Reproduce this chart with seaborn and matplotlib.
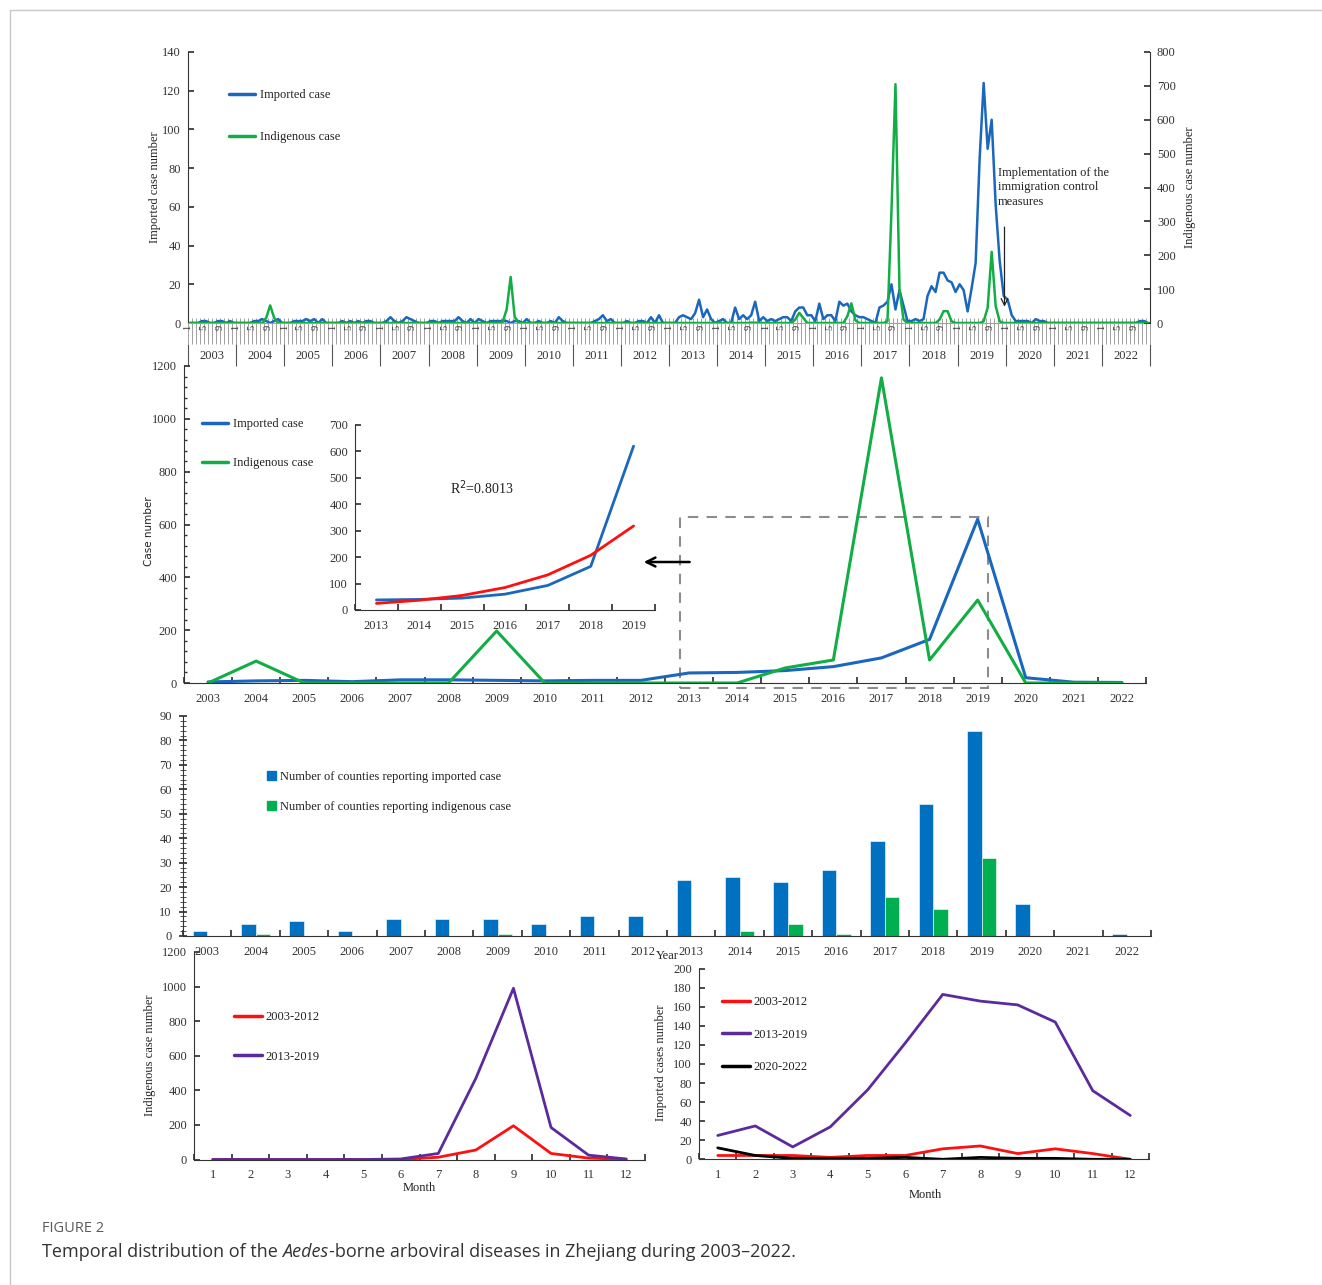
import numpy as np
import pandas as pd
import matplotlib
matplotlib.use("Agg")
import matplotlib.pyplot as plt
import seaborn as sns
from matplotlib.ticker import FixedLocator, MultipleLocator
from matplotlib.patches import Rectangle, Patch
from matplotlib.lines import Line2D

# ---------------- data ----------------
years = [str(y) for y in range(2003, 2023)]
month_tick_labels = {0: "1", 4: "5", 8: "9"}

# monthly imported cases (left axis), one row per year 2003..2022
imported_monthly = [
    0, 0, 0, 1, 1, 0, 0, 1, 1, 0, 1, 0,        # 2003
    0, 0, 0, 0, 1, 1, 2, 1, 0, 1, 2, 0,        # 2004
    0, 0, 1, 1, 1, 2, 1, 2, 0, 2, 0, 0,        # 2005
    0, 0, 1, 0, 1, 0, 1, 0, 1, 1, 0, 0,        # 2006
    0, 1, 3, 1, 0, 1, 3, 2, 1, 0, 0, 0,        # 2007
    1, 1, 0, 1, 1, 1, 1, 3, 1, 0, 2, 0,        # 2008
    2, 1, 0, 1, 1, 1, 1, 1, 0, 1, 1, 0,        # 2009
    2, 0, 0, 1, 0, 0, 1, 0, 3, 1, 0, 0,        # 2010
    0, 0, 0, 0, 0, 1, 2, 4, 1, 2, 0, 0,        # 2011
    0, 1, 0, 0, 1, 1, 0, 3, 0, 4, 0, 0,        # 2012
    0, 0, 3, 4, 3, 2, 5, 12, 3, 7, 2, 0,       # 2013
    1, 2, 0, 0, 8, 2, 4, 2, 4, 11, 1, 3,       # 2014
    1, 2, 1, 2, 3, 3, 1, 6, 8, 8, 4, 4,        # 2015
    1, 10, 2, 4, 4, 1, 11, 9, 10, 6, 4, 3,     # 2016
    3, 2, 1, 0, 8, 9, 11, 20, 7, 17, 9, 1,     # 2017
    1, 2, 1, 2, 14, 19, 16, 26, 26, 22, 21, 16,  # 2018
    20, 17, 6, 18, 31, 85, 124, 90, 105, 61, 32, 14,  # 2019
    12, 4, 1, 1, 1, 1, 0, 2, 1, 1, 0, 0,       # 2020
    0, 0, 0, 0, 0, 0, 0, 0, 0, 0, 0, 0,        # 2021
    0, 0, 0, 0, 0, 0, 0, 0, 0, 1, 1, 0,        # 2022
]
# monthly indigenous cases (right axis)
indigenous_monthly = [
    0, 0, 0, 0, 0, 0, 0, 0, 0, 0, 0, 0,        # 2003
    0, 0, 0, 0, 0, 0, 0, 15, 52, 15, 0, 0,     # 2004
    0, 0, 0, 0, 0, 0, 0, 0, 0, 0, 0, 0,        # 2005
    0, 0, 0, 0, 0, 0, 0, 0, 0, 0, 0, 0,        # 2006
    0, 0, 0, 0, 0, 0, 0, 0, 0, 0, 0, 0,        # 2007
    0, 0, 0, 0, 0, 0, 0, 0, 0, 0, 0, 0,        # 2008
    0, 0, 0, 0, 0, 0, 3, 40, 136, 18, 0, 0,    # 2009
    0, 0, 0, 0, 0, 0, 0, 0, 0, 0, 0, 0,        # 2010
    0, 0, 0, 0, 0, 0, 0, 0, 0, 0, 0, 0,        # 2011
    0, 0, 0, 0, 0, 0, 0, 0, 0, 0, 0, 0,        # 2012
    0, 0, 0, 0, 0, 0, 0, 0, 0, 0, 0, 0,        # 2013
    0, 0, 0, 0, 0, 0, 0, 0, 1, 1, 0, 0,        # 2014
    0, 0, 0, 0, 0, 0, 0, 10, 30, 15, 0, 0,     # 2015
    0, 0, 0, 0, 0, 0, 0, 0, 20, 58, 8, 0,      # 2016
    0, 0, 0, 0, 0, 0, 5, 330, 705, 100, 10, 0,  # 2017
    0, 0, 0, 0, 0, 0, 0, 10, 35, 35, 5, 0,     # 2018
    0, 0, 0, 0, 0, 0, 5, 45, 210, 50, 5, 0,    # 2019
    0, 0, 0, 0, 0, 0, 0, 0, 0, 0, 0, 0,        # 2020
    0, 0, 0, 0, 0, 0, 0, 0, 0, 0, 0, 0,        # 2021
    0, 0, 0, 0, 0, 0, 0, 0, 0, 0, 0, 0,        # 2022
]

imported_annual = [4, 8, 10, 5, 12, 12, 10, 8, 10, 10, 38, 40, 47, 62, 95, 165, 620, 20, 3, 2]
indigenous_annual = [0, 83, 0, 0, 0, 0, 197, 0, 0, 0, 0, 0, 57, 87, 1155, 87, 314, 0, 0, 0]

inset_years = ["2013", "2014", "2015", "2016", "2017", "2018", "2019"]
inset_imported = [38, 40, 45, 60, 93, 165, 620]
inset_trend = [25, 37, 55, 85, 133, 207, 318]

counties_imported = [2, 5, 6, 2, 7, 7, 7, 5, 8, 8, 23, 24, 22, 27, 39, 54, 84, 13, 0, 1]
counties_indigenous = [0, 1, 0, 0, 0, 0, 1, 0, 0, 0, 0, 2, 5, 1, 16, 11, 32, 0, 0, 0]

months = list(range(1, 13))
indig_2003_2012 = [0, 0, 0, 0, 0, 0, 13, 55, 195, 35, 8, 1]
indig_2013_2019 = [0, 0, 0, 0, 0, 3, 35, 470, 990, 185, 25, 3]
imp_2003_2012 = [4, 4, 4, 2, 4, 4, 11, 14, 6, 11, 6, 0]
imp_2013_2019 = [25, 35, 13, 34, 73, 122, 173, 166, 162, 144, 72, 46]
imp_2020_2022 = [12, 4, 1, 1, 1, 2, 0, 2, 1, 1, 0, 0]

# ---------------- style ----------------
sns.set_theme(style="ticks")
plt.rcParams['font.family'] = ['Liberation Serif', 'DejaVu Serif']
plt.rcParams['axes.edgecolor'] = '#333333'
plt.rcParams['axes.linewidth'] = 0.8
plt.rcParams['xtick.color'] = '#333333'
plt.rcParams['ytick.color'] = '#333333'
plt.rcParams['text.color'] = '#222222'

BLUE = '#1b67bd'
BLUE_BAR = '#0070c0'
GREEN = '#13ad45'
GREEN_BAR = '#00b050'
RED = '#ff1010'
PURPLE = '#5c2a9d'
FS = 9

W, H = 1322, 1285
fig = plt.figure(figsize=(W / 100, H / 100), dpi=100)


def rect(left, top, right, bottom):
    return [left / W, 1 - bottom / H, (right - left) / W, (bottom - top) / H]


def ftext(px, py, s, **kw):
    kw.setdefault('ha', 'center')
    kw.setdefault('va', 'center')
    return fig.text(px / W, 1 - py / H, s, **kw)


def new_axes(r):
    a = fig.add_axes(r)
    a.patch.set_alpha(0)
    return a


# ---------------- panel 1: monthly ----------------
ax1 = new_axes(rect(188, 52, 1150, 323))
df1 = pd.DataFrame({"m": np.arange(len(imported_monthly)) + 0.5,
                    "imp": imported_monthly, "ind": indigenous_monthly})
sns.lineplot(data=df1, x="m", y="imp", ax=ax1, color=BLUE, lw=1.8)
ax1r = ax1.twinx()
sns.lineplot(data=df1, x="m", y="ind", ax=ax1r, color=GREEN, lw=1.8)
nm = len(imported_monthly)
ax1.set_xlim(0, nm)
ax1.set_ylim(0, 140)
ax1r.set_ylim(0, 800)
for a in (ax1, ax1r):
    a.set_xlabel("")
    a.set_ylabel("")
    a.spines['top'].set_visible(False)
ax1.spines['right'].set_visible(False)
ax1r.spines['left'].set_visible(False)
ax1r.spines['bottom'].set_visible(False)
ax1.set_yticks(range(0, 141, 20))
ax1r.set_yticks(range(0, 801, 100))
ax1.tick_params(axis='y', direction='in', length=4, labelsize=FS, pad=5)
ax1r.tick_params(axis='y', direction='in', length=4, labelsize=FS, pad=5)

mpos = np.arange(0, nm + 1)
ax1.xaxis.remove_overlapping_locs = False
ax1.set_xticks(mpos)
ax1.set_xticklabels([month_tick_labels.get(i % 12, "") if i < nm else "" for i in mpos])
ax1.xaxis.set_minor_locator(FixedLocator(mpos))
ax1.tick_params(axis='x', which='major', direction='out', length=15, width=0.7,
                color='#a0a0a0', labelsize=7.5, labelcolor='#333333', pad=-13.5,
                labelrotation=90)
ax1.tick_params(axis='x', which='minor', direction='in', length=3.5, width=0.7, color='#a0a0a0')
ax1.spines['bottom'].set_color('#a0a0a0')

sec = ax1.secondary_xaxis(-21 / 271)
sec.set_xticks(np.arange(0, nm + 1, 12))
sec.set_xticklabels([])
sec.set_xticks(np.arange(6, nm, 12), labels=years, minor=True)
sec.tick_params(which='major', direction='out', length=16, width=0.8, color='#555555')
sec.tick_params(which='minor', length=0, labelsize=FS, pad=4)
for s in sec.spines.values():
    s.set_visible(False)

h1 = [Line2D([], [], color=BLUE, lw=2.5), Line2D([], [], color=GREEN, lw=2.5)]
ax1.legend(h1, ["Imported case", "Indigenous case"], loc='upper left',
           bbox_to_anchor=(229 / W, 1 - 89 / H), bbox_transform=fig.transFigure,
           frameon=False, fontsize=FS, handlelength=2.1, handletextpad=0.4,
           labelspacing=2.4, borderpad=0, borderaxespad=0)

ax1.text((998 - 188) / 962 * nm, (323 - 167) / 1.936,
         "Implementation of the\nimmigration control\nmeasures",
         ha='left', va='top', fontsize=FS, linespacing=1.25)
ax1.annotate("", xy=(203.7, 7), xytext=(203.7, 51),
             arrowprops=dict(arrowstyle='->', color='#222222', lw=0.9))

ftext(155, 187, "Imported case number", rotation=90, fontsize=FS)
ftext(1190, 187, "Indigenous case number", rotation=90, fontsize=FS)

# ---------------- panel 2: annual ----------------
ax2 = new_axes(rect(184, 366, 1146, 683))
idx = np.arange(len(years))
sns.lineplot(x=idx, y=imported_annual, ax=ax2, color=BLUE, lw=2.2)
sns.lineplot(x=idx, y=indigenous_annual, ax=ax2, color=GREEN, lw=2.2)
ax2.set_xlim(-0.5, len(years) - 0.5)
ax2.set_ylim(0, 1200)
ax2.spines['top'].set_visible(False)
ax2.spines['right'].set_visible(False)
ax2.set_xticks(np.arange(-0.5, len(years), 1))
ax2.set_xticklabels([])
ax2.set_xticks(idx, labels=years, minor=True)
ax2.tick_params(axis='x', which='major', direction='in', length=4)
ax2.tick_params(axis='x', which='minor', length=0, labelsize=FS, pad=7)
ax2.set_yticks(range(0, 1201, 200))
ax2.yaxis.set_minor_locator(MultipleLocator(40))
ax2.tick_params(axis='y', which='major', direction='in', length=4, labelsize=FS, pad=5)
ax2.tick_params(axis='y', which='minor', direction='in', length=2.5)

h2 = [Line2D([], [], color=BLUE, lw=2.5), Line2D([], [], color=GREEN, lw=2.5)]
ax2.legend(h2, ["Imported case", "Indigenous case"], loc='upper left',
           bbox_to_anchor=(202 / W, 1 - 418 / H), bbox_transform=fig.transFigure,
           frameon=False, fontsize=FS, handlelength=2.1, handletextpad=0.4,
           labelspacing=2.2, borderpad=0, borderaxespad=0)

ax2.add_patch(Rectangle((9.81, -19), 16.21 - 9.81, 629 + 19, fill=False,
                        edgecolor='#8c8c8c', lw=1.5, ls=(0, (5, 4)), clip_on=False))
ax2.annotate("", xy=(9.0, 458), xytext=(10.07, 458),
             arrowprops=dict(arrowstyle='->', color='black', lw=1.8, mutation_scale=16))
ftext(149, 531, "Case number", rotation=90, fontsize=7.5, family=['DejaVu Sans'])

# inset
axi = new_axes(rect(355, 425, 655, 610))
ii = np.arange(len(inset_years))
sns.lineplot(x=ii, y=inset_imported, ax=axi, color=BLUE, lw=2.0)
sns.lineplot(x=ii, y=inset_trend, ax=axi, color=RED, lw=2.0)
axi.set_xlim(-0.5, len(inset_years) - 0.5)
axi.set_ylim(0, 700)
axi.spines['top'].set_visible(False)
axi.spines['right'].set_visible(False)
axi.set_xticks(np.arange(-0.5, len(inset_years), 1))
axi.set_xticklabels([])
axi.set_xticks(ii, labels=inset_years, minor=True)
axi.tick_params(axis='x', which='major', direction='in', length=4)
axi.tick_params(axis='x', which='minor', length=0, labelsize=FS, pad=7)
axi.set_yticks(range(0, 701, 100))
axi.tick_params(axis='y', direction='in', length=4, labelsize=FS, pad=5)
axi.text(1.72, 461, "R$^2$=0.8013", ha='left', va='center', fontsize=10)

# ---------------- panel 3: counties ----------------
ax3 = new_axes(rect(183, 716, 1151, 936))
df3 = pd.DataFrame({
    "year": years * 2,
    "count": counties_imported + counties_indigenous,
    "kind": ["imported"] * len(years) + ["indigenous"] * len(years),
})
sns.barplot(data=df3, x="year", y="count", hue="kind", order=years,
            palette=[BLUE_BAR, GREEN_BAR], width=0.6, saturation=1,
            ax=ax3, legend=False, edgecolor='white', linewidth=0.4)
ax3.set_xlabel("")
ax3.set_ylabel("")
ax3.set_xlim(-0.5, len(years) - 0.5)
ax3.set_ylim(0, 90)
ax3.spines['top'].set_visible(False)
ax3.spines['right'].set_visible(False)
ax3.set_xticks(np.arange(-0.5, len(years), 1))
ax3.set_xticklabels([])
ax3.set_xticks(idx, labels=years, minor=True)
ax3.tick_params(axis='x', which='major', direction='in', length=4)
ax3.tick_params(axis='x', which='minor', length=0, labelsize=FS, pad=7)
ax3.set_yticks(range(0, 91, 10))
ax3.yaxis.set_minor_locator(MultipleLocator(2))
ax3.tick_params(axis='y', which='major', direction='inout', length=6, labelsize=FS, pad=5)
ax3.tick_params(axis='y', which='minor', direction='inout', length=4, width=0.6)
ax3.text(9.5, -0.065, "Year", transform=ax3.get_xaxis_transform(),
         ha='center', va='top', fontsize=FS)
h3 = [Patch(color=BLUE_BAR), Patch(color=GREEN_BAR)]
ax3.legend(h3, ["Number of counties reporting imported case",
                "Number of counties reporting indigenous case"],
           loc='upper left', bbox_to_anchor=(267 / W, 1 - 771 / H),
           bbox_transform=fig.transFigure, frameon=False, fontsize=FS,
           handlelength=0.7, handleheight=0.7, handletextpad=0.3,
           labelspacing=1.45, borderpad=0, borderaxespad=0)

# ---------------- panel 4 left: indigenous by month ----------------
ax4 = new_axes(rect(194, 952, 645, 1159.5))
sns.lineplot(x=months, y=indig_2003_2012, ax=ax4, color=RED, lw=2.0)
sns.lineplot(x=months, y=indig_2013_2019, ax=ax4, color=PURPLE, lw=2.0)
ax4.set_xlim(0.5, 12.5)
ax4.set_ylim(0, 1200)
ax4.spines['top'].set_visible(False)
ax4.spines['right'].set_visible(False)
ax4.set_xticks(np.arange(0.5, 13, 1))
ax4.set_xticklabels([])
ax4.set_xticks(months, labels=[str(m) for m in months], minor=True)
ax4.tick_params(axis='x', which='major', direction='in', length=4)
ax4.tick_params(axis='x', which='minor', length=0, labelsize=FS, pad=7)
ax4.set_yticks(range(0, 1201, 200))
ax4.tick_params(axis='y', direction='in', length=4, labelsize=FS, pad=5)
h4 = [Line2D([], [], color=RED, lw=2.5), Line2D([], [], color=PURPLE, lw=2.5)]
ax4.legend(h4, ["2003-2012", "2013-2019"], loc='upper left',
           bbox_to_anchor=(234 / W, 1 - 1011 / H), bbox_transform=fig.transFigure,
           frameon=False, fontsize=FS, handlelength=2.2, handletextpad=0.3,
           labelspacing=2.2, borderpad=0, borderaxespad=0)
ftext(150, 1055, "Indigenous case number", rotation=90, fontsize=FS)
ftext(419, 1188, "Month", fontsize=FS)

# ---------------- panel 4 right: imported by month ----------------
ax5 = new_axes(rect(699, 968.7, 1149, 1159.3))
sns.lineplot(x=months, y=imp_2003_2012, ax=ax5, color=RED, lw=2.0)
sns.lineplot(x=months, y=imp_2013_2019, ax=ax5, color=PURPLE, lw=2.0)
sns.lineplot(x=months, y=imp_2020_2022, ax=ax5, color='black', lw=2.0)
ax5.set_xlim(0.5, 12.5)
ax5.set_ylim(0, 200)
ax5.spines['top'].set_visible(False)
ax5.spines['right'].set_visible(False)
ax5.set_xticks(np.arange(0.5, 13, 1))
ax5.set_xticklabels([])
ax5.set_xticks(months, labels=[str(m) for m in months], minor=True)
ax5.tick_params(axis='x', which='major', direction='in', length=4)
ax5.tick_params(axis='x', which='minor', length=0, labelsize=FS, pad=7)
ax5.set_yticks(range(0, 201, 20))
ax5.tick_params(axis='y', direction='in', length=4, labelsize=FS, pad=5)
h5 = [Line2D([], [], color=RED, lw=2.5), Line2D([], [], color=PURPLE, lw=2.5),
      Line2D([], [], color='black', lw=2.5)]
ax5.legend(h5, ["2003-2012", "2013-2019", "2020-2022"], loc='upper left',
           bbox_to_anchor=(722 / W, 1 - 996 / H), bbox_transform=fig.transFigure,
           frameon=False, fontsize=FS, handlelength=2.2, handletextpad=0.3,
           labelspacing=1.65, borderpad=0, borderaxespad=0)
ftext(661, 1063, "Imported cases number", rotation=90, fontsize=FS)
ftext(925, 1195, "Month", fontsize=FS)

# ---------------- frame and caption ----------------
fig.add_artist(Line2D([10 / W, 1], [1 - 10 / H, 1 - 10 / H], transform=fig.transFigure,
                      color='#c8c8c8', lw=1))
fig.add_artist(Line2D([10 / W, 10 / W], [1 - 10 / H, 0], transform=fig.transFigure,
                      color='#c8c8c8', lw=1))

cap_font = ['Open Sans', 'DejaVu Sans']
ftext(42, 1229, "FIGURE 2", ha='left', fontsize=10.5, family=cap_font, color='#5a5a5a')
renderer = fig.canvas.get_renderer()
t1 = ftext(42, 1252, "Temporal distribution of the ", ha='left', fontsize=13,
           family=cap_font, color='#333333')
x1 = t1.get_window_extent(renderer).x1
t2 = fig.text(x1 / W, 1 - 1252 / H, "Aedes", ha='left', va='center', fontsize=13,
              family=cap_font, style='italic', color='#333333')
x2 = t2.get_window_extent(renderer).x1
fig.text(x2 / W, 1 - 1252 / H, "-borne arboviral diseases in Zhejiang during 2003\u20132022.",
         ha='left', va='center', fontsize=13, family=cap_font, color='#333333')

fig.savefig("out.png", dpi=100, facecolor='white')
